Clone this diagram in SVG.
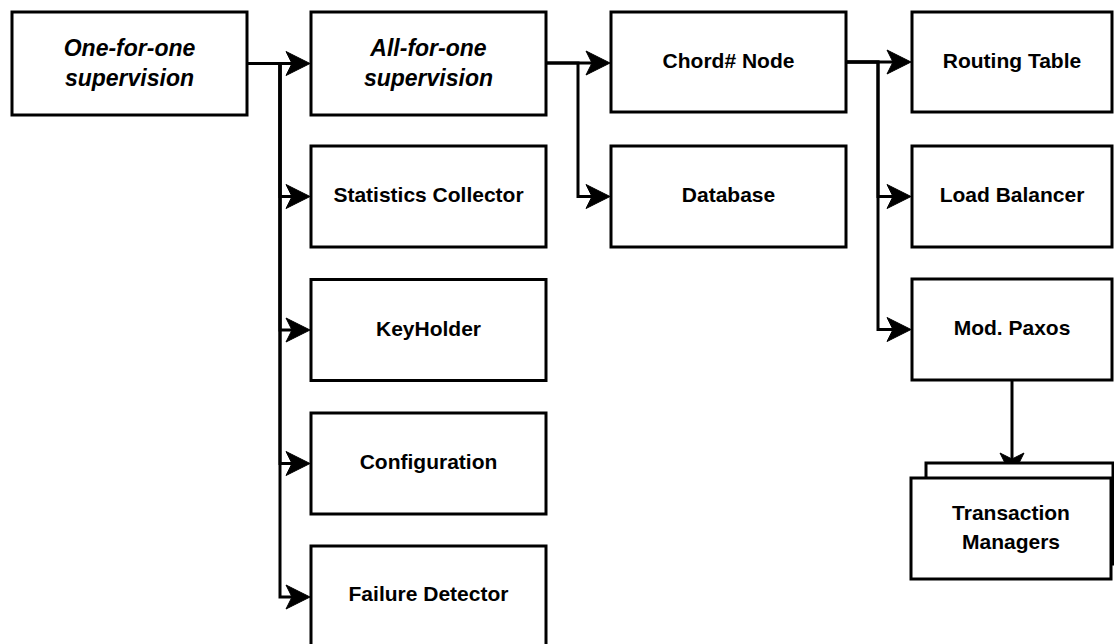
<svg xmlns="http://www.w3.org/2000/svg" xmlns:xlink="http://www.w3.org/1999/xlink" width="1114" height="644" viewBox="0 0 1114 644">
<style>
.box{fill:#fff;stroke:#000;stroke-width:3}
.lbl{font-family:"Liberation Sans",Arial,Helvetica,sans-serif;font-weight:bold;font-size:21px;fill:#000;text-anchor:middle}
.ital{font-style:italic;font-size:23px}
.edge{fill:none;stroke:#000;stroke-width:3;stroke-linejoin:miter}
.head{fill:#000;stroke:#000;stroke-width:1;stroke-linejoin:miter}
</style>
<defs>
<path id="ah" d="M0,0 L-24,-12 L-18,0 L-24,12 Z"/>
</defs>
<rect width="1114" height="644" fill="#fff"/>
<g id="connectors">
<path class="edge" d="M247,63.5 H293"/>
<path class="edge" d="M247,63.5 H280 V196.5 H293"/>
<path class="edge" d="M247,63.5 H280 V330 H293"/>
<path class="edge" d="M247,63.5 H280 V463.5 H293"/>
<path class="edge" d="M247,63.5 H280 V597 H293"/>
<path class="edge" d="M546,63 H593"/>
<path class="edge" d="M546,63 H578 V196.5 H593"/>
<path class="edge" d="M846,62 H894"/>
<path class="edge" d="M846,62 H878 V196.5 H894"/>
<path class="edge" d="M846,62 H878 V329.5 H894"/>
<path class="edge" d="M1012,380 V460"/>
<g class="head">
<use xlink:href="#ah" href="#ah" transform="translate(310,63.5)"/>
<use xlink:href="#ah" href="#ah" transform="translate(310,196.5)"/>
<use xlink:href="#ah" href="#ah" transform="translate(310,330)"/>
<use xlink:href="#ah" href="#ah" transform="translate(310,463.5)"/>
<use xlink:href="#ah" href="#ah" transform="translate(310,597)"/>
<use xlink:href="#ah" href="#ah" transform="translate(610,63)"/>
<use xlink:href="#ah" href="#ah" transform="translate(610,196.5)"/>
<use xlink:href="#ah" href="#ah" transform="translate(911,62)"/>
<use xlink:href="#ah" href="#ah" transform="translate(911,196.5)"/>
<use xlink:href="#ah" href="#ah" transform="translate(911,329.5)"/>
<use xlink:href="#ah" href="#ah" transform="translate(1012,477) rotate(90)"/>
</g>
</g>
<g id="one-for-one"><rect class="box" x="12" y="12" width="235" height="103"/><text class="lbl ital" x="129.5" y="55.5">One-for-one</text><text class="lbl ital" x="129.5" y="85.5">supervision</text></g>
<g id="all-for-one"><rect class="box" x="311" y="12" width="235" height="103"/><text class="lbl ital" x="428.5" y="55.5">All-for-one</text><text class="lbl ital" x="428.5" y="85.5">supervision</text></g>
<g id="statistics-collector"><rect class="box" x="311" y="146" width="235" height="101"/><text class="lbl" x="428.5" y="202">Statistics Collector</text></g>
<g id="keyholder"><rect class="box" x="311" y="279.5" width="235" height="101"/><text class="lbl" x="428.5" y="336">KeyHolder</text></g>
<g id="configuration"><rect class="box" x="311" y="413" width="235" height="101"/><text class="lbl" x="428.5" y="469">Configuration</text></g>
<g id="failure-detector"><rect class="box" x="311" y="546" width="235" height="103"/><text class="lbl" x="428.5" y="601">Failure Detector</text></g>
<g id="chord-node"><rect class="box" x="611" y="12" width="235" height="100"/><text class="lbl" x="728.5" y="68">Chord# Node</text></g>
<g id="database"><rect class="box" x="611" y="146" width="235" height="101"/><text class="lbl" x="728.5" y="202">Database</text></g>
<g id="routing-table"><rect class="box" x="912" y="12" width="200" height="100"/><text class="lbl" x="1012" y="68">Routing Table</text></g>
<g id="load-balancer"><rect class="box" x="912" y="146" width="200" height="101"/><text class="lbl" x="1012" y="202">Load Balancer</text></g>
<g id="mod-paxos"><rect class="box" x="912" y="279" width="200" height="101"/><text class="lbl" x="1012" y="335">Mod. Paxos</text></g>
<g id="transaction-managers"><rect class="box" x="926" y="463" width="187" height="101"/><rect class="box" x="911" y="478" width="200" height="101"/><text class="lbl" x="1011" y="519.5">Transaction</text><text class="lbl" x="1011" y="548.5">Managers</text></g>
</svg>
